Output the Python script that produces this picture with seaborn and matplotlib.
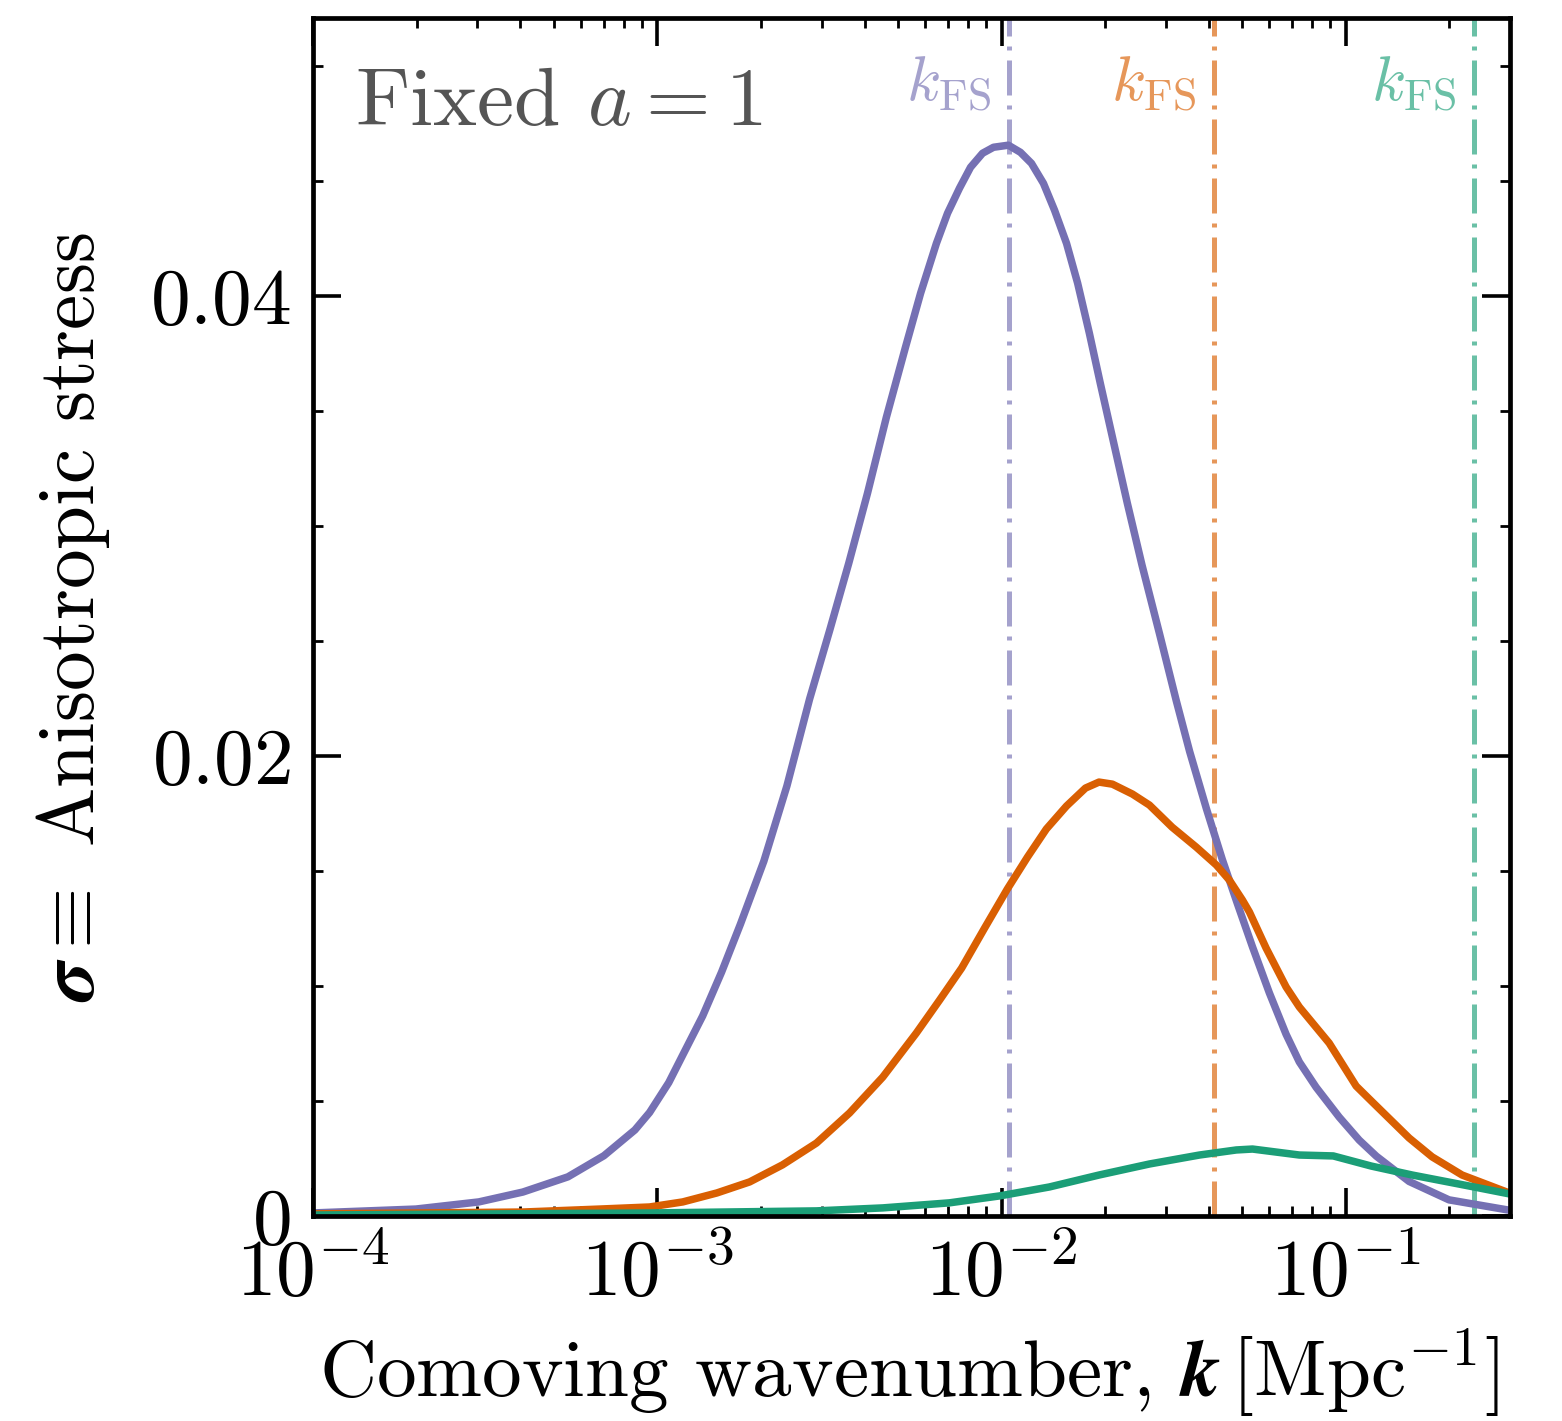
import numpy as np
import pandas as pd
import matplotlib
matplotlib.use("Agg")
import matplotlib.pyplot as plt
import matplotlib.ticker as mticker
import seaborn as sns

# ---- data ----
k_purple = [1.0e-4, 1.99e-4, 3.03e-4, 4.07e-4, 5.50e-4, 7.0e-4, 8.61e-4, 9.5e-4, 1.08e-3, 1.186e-3,
            1.355e-3, 1.538e-3, 1.745e-3, 2.04e-3, 2.38e-3, 2.77e-3, 3.17e-3, 3.60e-3, 4.08e-3, 4.63e-3,
            5.26e-3, 5.82e-3, 6.47e-3, 6.97e-3, 7.55e-3, 8.13e-3, 8.81e-3, 9.48e-3, 1.047e-2, 1.135e-2,
            1.222e-2, 1.324e-2, 1.426e-2, 1.545e-2, 1.664e-2, 1.80e-2, 1.936e-2, 2.10e-2, 2.32e-2, 2.56e-2,
            2.88e-2, 3.22e-2, 3.52e-2, 3.94e-2, 4.38e-2, 4.84e-2, 5.36e-2, 6.0e-2, 6.71e-2, 7.33e-2,
            8.2e-2, 9.57e-2, 0.1094, 0.1227, 0.1528, 0.1995, 0.2985]
s_purple = [0.00013, 0.0003, 0.00061, 0.00104, 0.0017, 0.00262, 0.00374, 0.0045, 0.0058, 0.0070,
            0.0087, 0.01061, 0.0127, 0.01543, 0.0187, 0.02248, 0.02548, 0.02839, 0.03143, 0.03474,
            0.03778, 0.04013, 0.0423, 0.04361, 0.0447, 0.04561, 0.04622, 0.04648, 0.04657, 0.04626,
            0.04578, 0.04491, 0.04374, 0.0423, 0.04057, 0.03839, 0.03622, 0.03387, 0.0310, 0.0283,
            0.0253, 0.0224, 0.0202, 0.0177, 0.0155, 0.0136, 0.0117, 0.0097, 0.0079, 0.0067,
            0.0056, 0.0043, 0.0033, 0.0026, 0.0015, 0.0007, 0.00025]

k_orange = [1.0e-4, 4.07e-4, 6.82e-4, 9.5e-4, 1.186e-3, 1.49e-3, 1.855e-3, 2.31e-3, 2.90e-3, 3.62e-3,
            4.52e-3, 5.66e-3, 6.61e-3, 7.66e-3, 8.93e-3, 1.04e-2, 1.19e-2, 1.35e-2, 1.545e-2, 1.754e-2,
            1.92e-2, 2.10e-2, 2.40e-2, 2.69e-2, 3.13e-2, 3.68e-2, 4.21e-2, 4.59e-2, 5.01e-2, 5.25e-2,
            5.87e-2, 6.71e-2, 7.33e-2, 8.95e-2, 0.1072, 0.1194, 0.1528, 0.1782, 0.2178, 0.2985]
s_orange = [0.00009, 0.00017, 0.0003, 0.00039, 0.00061, 0.001, 0.00148, 0.00222, 0.00317, 0.00448,
            0.00604, 0.00796, 0.00939, 0.01078, 0.01252, 0.01422, 0.01561, 0.01683, 0.01783, 0.01861,
            0.01887, 0.01878, 0.01835, 0.01787, 0.01691, 0.01604, 0.01526, 0.01461, 0.01374, 0.01322,
            0.01165, 0.00996, 0.00909, 0.00752, 0.00565, 0.00496, 0.00339, 0.00257, 0.00178, 0.001]

k_green = [1.0e-4, 9.5e-4, 2.90e-3, 4.52e-3, 7.06e-3, 9.86e-3, 1.377e-2, 1.92e-2, 2.69e-2, 3.76e-2,
           4.81e-2, 5.36e-2, 7.33e-2, 9.2e-2, 0.1186, 0.156, 0.236, 0.2985]
s_green = [0.00004, 0.00013, 0.00022, 0.00035, 0.00057, 0.00087, 0.00126, 0.00178, 0.00226, 0.00265,
           0.00287, 0.00291, 0.00265, 0.00261, 0.00217, 0.00178, 0.00126, 0.00096]

k_fs = [0.0105, 0.0415, 0.236]
series_names = ["purple", "orange", "green"]
colors = ["#7570b3", "#d95f02", "#1b9e77"]

xtick_vals = [1e-4, 1e-3, 1e-2, 1e-1]
xtick_labels = [r"$10^{-4}$", r"$10^{-3}$", r"$10^{-2}$", r"$10^{-1}$"]
ytick_vals = [0, 0.02, 0.04]
ytick_labels = [r"$0$", r"$0.02$", r"$0.04$"]

# ---- style ----
sns.set_theme(style="ticks")
plt.rcParams.update({
    "font.family": ["serif"],
    "font.serif": ["cmr10", "DejaVu Serif"],
    "mathtext.fontset": "cm",
    "axes.formatter.use_mathtext": True,
    "axes.unicode_minus": False,
    "text.color": "black",
    "axes.labelcolor": "black",
    "xtick.color": "black",
    "ytick.color": "black",
})

df = pd.concat([
    pd.DataFrame({"k": k_purple, "sigma": s_purple, "series": "purple"}),
    pd.DataFrame({"k": k_orange, "sigma": s_orange, "series": "orange"}),
    pd.DataFrame({"k": k_green, "sigma": s_green, "series": "green"}),
], ignore_index=True)

fig = plt.figure(figsize=(7.81, 7.105), dpi=200)
ax = fig.add_axes([0.2004, 0.1443, 0.7663, 0.843])

sns.lineplot(data=df, x="k", y="sigma", hue="series", hue_order=series_names,
             palette=colors, estimator=None, sort=True, linewidth=2.7, legend=False, ax=ax)

for kf, c in zip(k_fs, colors):
    ax.axvline(kf, color=c, alpha=0.65, lw=1.8, ls=(0, (7.0, 2.0, 0.8, 2.0)), zorder=1)
    ax.annotate(r"$k_{\rm FS}$", xy=(kf, 0.945), xycoords=("data", "axes fraction"),
                xytext=(-6.5, 0), textcoords="offset points", ha="right", va="center",
                color=c, alpha=0.65, fontsize=22.5)

ax.text(0.035, 0.928, r"Fixed $a = 1$", transform=ax.transAxes, color="#555555",
        fontsize=30, ha="left", va="center")

ax.set_xscale("log")
ax.set_xlim(1e-4, 0.3)
ax.set_ylim(0, 0.0521)
ax.xaxis.set_major_locator(mticker.FixedLocator(xtick_vals))
ax.xaxis.set_major_formatter(mticker.FixedFormatter(xtick_labels))
ax.xaxis.set_minor_locator(mticker.LogLocator(base=10, subs=np.arange(2, 10), numticks=20))
ax.xaxis.set_minor_formatter(mticker.NullFormatter())
ax.yaxis.set_major_locator(mticker.FixedLocator(ytick_vals))
ax.yaxis.set_major_formatter(mticker.FixedFormatter(ytick_labels))
ax.yaxis.set_minor_locator(mticker.MultipleLocator(0.005))

ax.tick_params(which="both", direction="in", top=True, right=True, colors="black")
ax.tick_params(which="major", length=10, width=1.3, labelsize=28.5, pad=8)
ax.tick_params(which="minor", length=3.6, width=1.0)
for sp in ax.spines.values():
    sp.set_linewidth(1.7)
    sp.set_color("black")

ax.set_xlabel(r"Comoving wavenumber, $\mathbfit{k}\,[\mathrm{Mpc}^{-1}]$", fontsize=28.5)
ax.set_ylabel(r"$\mathbfit{\sigma} \equiv {}$ Anisotropic stress", fontsize=28.5)
ax.xaxis.set_label_coords(0.498, -0.093)
ax.yaxis.set_label_coords(-0.168, 0.5)

fig.savefig("out.png", dpi=200)
